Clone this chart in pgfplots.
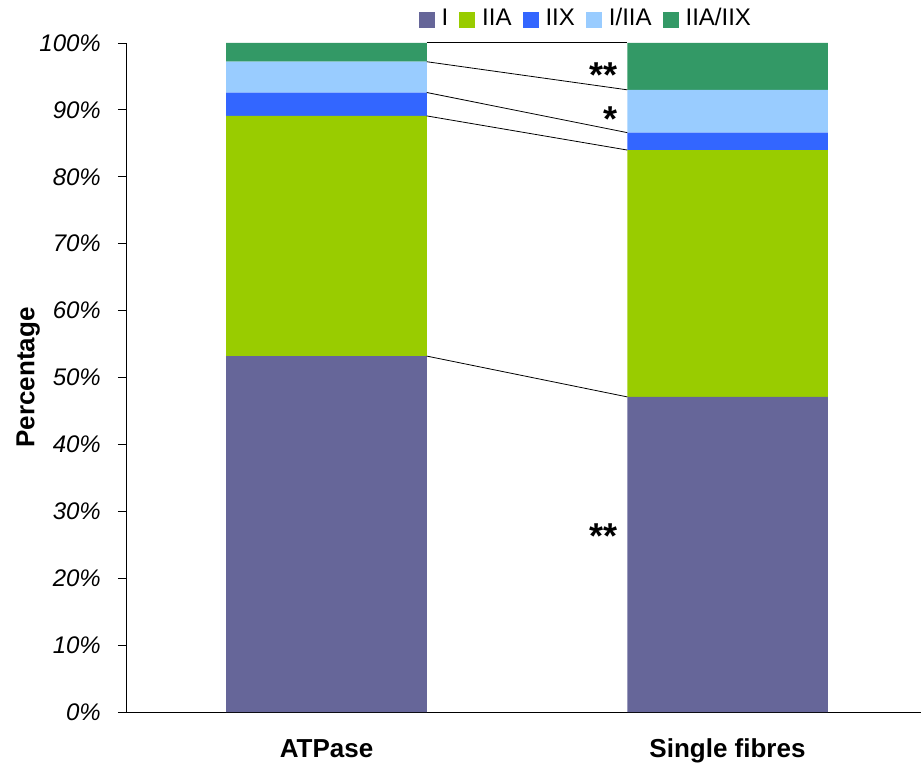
\documentclass[border=0pt]{standalone}
\usepackage{fontspec}
\setmainfont{Liberation Sans}
\usepackage{pgfplots}
\pgfplotsset{compat=1.18}
\definecolor{cI}{HTML}{666699}
\definecolor{cIIA}{HTML}{99CC00}
\definecolor{cIIX}{HTML}{3366FF}
\definecolor{cIIIA}{HTML}{99CCFF}
\definecolor{cIIAIIX}{HTML}{339966}
\newcommand\chartfont{\fontsize{24pt}{28pt}\selectfont}
\newcommand\labelfont{\fontsize{26pt}{30pt}\selectfont\bfseries}
\newcommand\starfont{\fontsize{36pt}{40pt}\selectfont\bfseries}
\begin{document}
\begin{tikzpicture}
\begin{axis}[
  at={(0,0)}, anchor=south west,
  width=802pt, height=669pt, scale only axis,
  ybar stacked, bar width=0.5,
  xmin=-0.5, xmax=1.5, ymin=0, ymax=100,
  axis x line=bottom, axis y line=left,
  axis line style={-, black, line width=0.8pt},
  xtick={0,1}, xticklabels={ATPase,Single fibres},
  xtick style={draw=none},
  minor xtick={-0.5,0.5,1.5},
  minor tick length=8pt,
  minor x tick style={black, line width=0.8pt},
  ytick={0,10,...,100},
  yticklabels={0\%,10\%,20\%,30\%,40\%,50\%,60\%,70\%,80\%,90\%,100\%},
  ytick style={black, line width=0.8pt},
  tick align=outside, major tick length=8pt,
  yticklabel style={font=\chartfont\itshape, inner sep=0pt, xshift=-17pt},
  xticklabel style={font=\labelfont, text height=18pt, text depth=3pt, inner sep=0pt, yshift=-19pt},
  ylabel={Percentage},
  ylabel style={font=\labelfont, at={(axis description cs:-0.122,0.5)}, anchor=center, rotate=0},
  legend columns=-1,
  legend style={draw=none, fill=none, at={(axis description cs:0.572,1.0374)}, anchor=center,
    font=\chartfont, column sep=7pt,
    /tikz/every even column/.append style={column sep=11pt},
    nodes={inner sep=0pt}},
  legend image code/.code={\fill[#1] (0pt,-10pt) rectangle (16pt,6pt);},
]
\addplot[fill=cI, draw=none] coordinates {(0,53.2) (1,47.1)};
\addplot[fill=cIIA, draw=none] coordinates {(0,35.9) (1,36.9)};
\addplot[fill=cIIX, draw=none] coordinates {(0,3.5) (1,2.6)};
\addplot[fill=cIIIA, draw=none] coordinates {(0,4.6) (1,6.4)};
\addplot[fill=cIIAIIX, draw=none] coordinates {(0,2.8) (1,7.0)};
\legend{I,IIA,IIX,I/IIA,IIA/IIX}
\end{axis}
\begin{axis}[
  at={(0,0)}, anchor=south west,
  width=802pt, height=669pt, scale only axis,
  xmin=-0.5, xmax=1.5, ymin=0, ymax=100,
  hide axis, clip=false,
]
\addplot[black, line width=0.8pt, mark=none] coordinates {(0.25,53.2) (0.75,47.1)};
\addplot[black, line width=0.8pt, mark=none] coordinates {(0.25,89.1) (0.75,84.0)};
\addplot[black, line width=0.8pt, mark=none] coordinates {(0.25,92.6) (0.75,86.6)};
\addplot[black, line width=0.8pt, mark=none] coordinates {(0.25,97.2) (0.75,93.0)};
\addplot[black, line width=1pt, mark=none] coordinates {(0.25,100) (0.75,100)};
\node[anchor=base east, inner sep=0pt, font=\starfont] at (axis cs:0.7269,24.5) {**};
\node[anchor=base east, inner sep=0pt, font=\starfont] at (axis cs:0.7269,93.4) {**};
\node[anchor=base east, inner sep=0pt, font=\starfont] at (axis cs:0.7269,86.7) {*};
\end{axis}
\pgfresetboundingbox
\path[use as bounding box] (-126pt,-51pt) rectangle (795pt,712pt);
\end{tikzpicture}
\end{document}
